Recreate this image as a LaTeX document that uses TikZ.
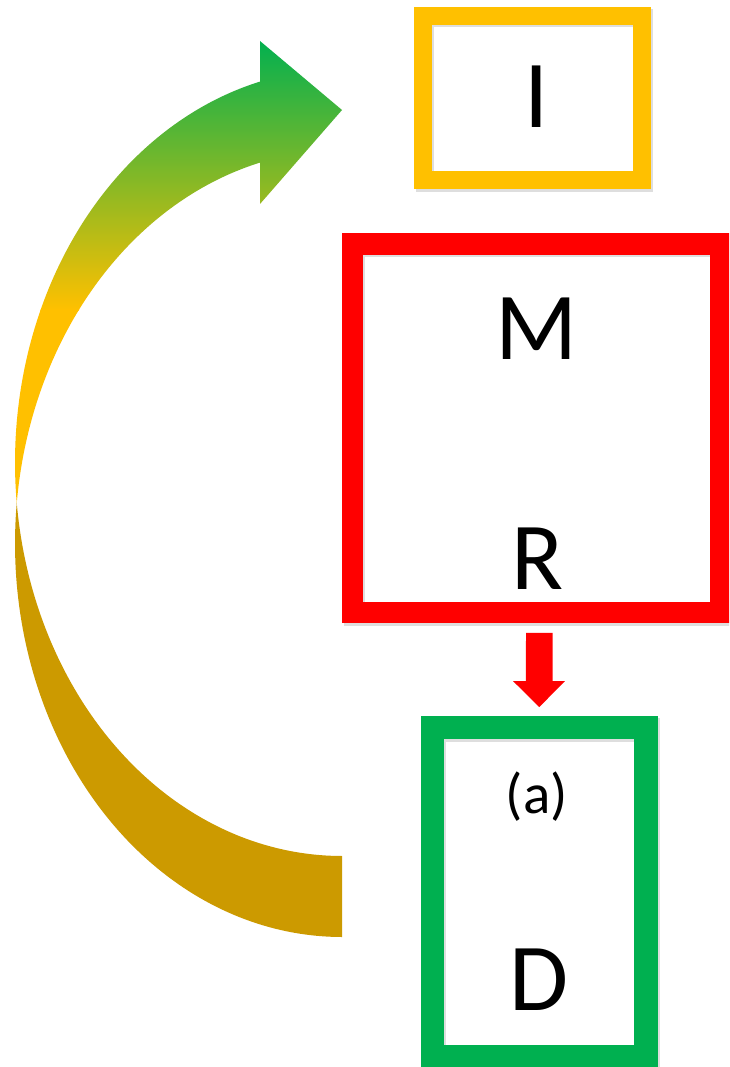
\documentclass[tikz,border=0pt]{standalone}
\usepackage{fontspec}
\setmainfont{Carlito}
\usetikzlibrary{calc}
\definecolor{cgold}{HTML}{FFC000}
\definecolor{cdark}{HTML}{CC9A00}
\definecolor{cgreen}{HTML}{00B050}
\definecolor{cred}{HTML}{FF0000}
\begin{document}
\begin{tikzpicture}[x=1pt,y=-1pt,
  frame/.style={draw, inner sep=0pt, outer sep=0pt},
  shadowframe/.style={draw=black, draw opacity=0.13, inner sep=0pt, outer sep=0pt},
  bigtext/.style={font=\fontsize{96}{96}\selectfont, anchor=base, inner sep=0pt},
  smalltext/.style={font=\fontsize{57}{57}\selectfont, anchor=base, inner sep=0pt}]
\useasboundingbox[fill=white] (0,0) rectangle (729,1067);
\begin{scope}
\clip (0,0) rectangle (729,1067);

% curved arrow: back (lower) part
\fill[cdark] plot[variable=\t, domain=90:185.91, samples=90]
   ({342+327*cos(\t)},{543.5+393.5*sin(\t)})
  -- plot[variable=\t, domain=0:84.09, samples=90]
   ({342+327*cos(174.09-\t)},{462.5+393.5*sin(174.09-\t)}) -- cycle;

% curved arrow: front (upper) part with gradient
\begin{scope}
\clip plot[variable=\t, domain=174.09:255.5, samples=90]
   ({342+327*cos(\t)},{462.5+393.5*sin(\t)})
  -- (260,41) -- (342,110) -- (260,204)
  -- plot[variable=\t, domain=0:69.59, samples=90]
   ({342+327*cos(255.5-\t)},{543.5+393.5*sin(255.5-\t)}) -- cycle;
\shade[top color=cgreen, bottom color=cgold] (0,38) rectangle (350,310);
\fill[cgold] (0,309) rectangle (350,520);
\end{scope}

% shadows of the frames
\node[shadowframe, line width=18.3pt, minimum width=218.7pt, minimum height=164.3pt] at (534.5,100.5) {};
\node[shadowframe, line width=21.3pt, minimum width=368pt, minimum height=368.4pt] at (538.65,430.65) {};
\node[shadowframe, line width=23.5pt, minimum width=213.5pt, minimum height=329.3pt] at (541.15,894.6) {};

% frames
\node[frame, draw=cgold, line width=18.3pt, minimum width=218.7pt, minimum height=164.3pt] (yel) at (532.5,98) {};
\node[frame, draw=cred, line width=21.3pt, minimum width=368pt, minimum height=368.4pt] (red) at (536.65,428.15) {};
\node[frame, draw=cgreen, line width=23.5pt, minimum width=213.5pt, minimum height=329.3pt] (grn) at (539.15,892.1) {};

% texts
\node[bigtext] (tI) at (537,127.7) {I};
\node[bigtext] (tM) at (536.7,359) {M};
\node[bigtext] (tR) at (538,589) {R};
\node[smalltext] (ta) at (536.7,813) {(a)};
\node[bigtext] (tD) at (539,1010.7) {D};

% red block arrow from red box to green box
\coordinate (ra) at ($(red.south)+(2.7,20.5)$);
\coordinate (rb) at ($(grn.north)+(0.15,-20.4)$);
\fill[cred] (ra) ++(-13.35,0) -- ++(26.7,0) |- ($(rb)+(13.35,-26)$) -- ++(12.3,0) -- (rb)
  -- ($(rb)+(-26.3,-26)$) -- ++(12.95,0) -- cycle;
\end{scope}
\end{tikzpicture}
\end{document}
